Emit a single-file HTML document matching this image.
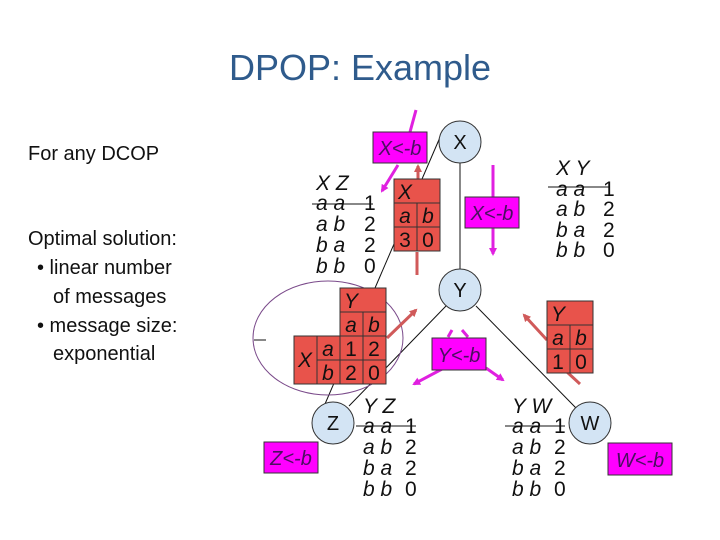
<!DOCTYPE html>
<html><head><meta charset="utf-8"><style>
html,body{margin:0;padding:0;background:#fff}
svg{display:block}
text{font-family:"Liberation Sans",sans-serif}
.t{font-style:italic;font-size:21px;fill:#111}
.n{font-style:normal;font-size:21px;fill:#111}
.m{font-style:italic;font-size:20px;fill:#4a1060}
</style></head><body>
<svg width="720" height="540" viewBox="0 0 720 540">
<defs>
<marker id="am" markerWidth="8" markerHeight="8" refX="6" refY="4" orient="auto" markerUnits="userSpaceOnUse"><path d="M0,0L8,4L0,8z" fill="#e020e0"/></marker>
<marker id="ar" markerWidth="8" markerHeight="8" refX="6" refY="4" orient="auto" markerUnits="userSpaceOnUse"><path d="M0,0L8,4L0,8z" fill="#d05a5a"/></marker>
</defs>
<text x="360" y="80" text-anchor="middle" font-size="36" fill="#2f5b8c">DPOP: Example</text>
<g font-size="20" fill="#111">
<text x="28" y="160">For any DCOP</text>
<text x="28" y="245">Optimal solution:</text>
<text x="37" y="274">• linear number</text>
<text x="53" y="303">of messages</text>
<text x="37" y="332">• message size:</text>
<text x="53" y="360">exponential</text>
</g>
<g stroke="#111" stroke-width="1" fill="none">
<line x1="460" y1="163" x2="460" y2="269"/>
<line x1="441" y1="135" x2="325" y2="404"/>
<line x1="446" y1="306" x2="349" y2="406"/>
<line x1="476" y1="306" x2="576" y2="408"/>
<line x1="254" y1="340" x2="266" y2="340"/>
</g>
<ellipse cx="328" cy="338" rx="75" ry="57" fill="none" stroke="#7a4a8a" stroke-width="1"/>
<g fill="#d3e4f4" stroke="#333" stroke-width="1">
<circle cx="460" cy="142" r="21"/><circle cx="460" cy="290" r="21"/>
<circle cx="333" cy="423" r="21"/><circle cx="590" cy="423" r="21"/>
</g>
<g font-size="20" fill="#111" text-anchor="middle">
<text x="460" y="149">X</text><text x="460" y="297">Y</text>
<text x="333" y="430">Z</text><text x="590" y="430">W</text>
</g>
<g stroke="#e020e0" stroke-width="3" fill="none">
<line x1="416" y1="110" x2="410" y2="132"/>
<line x1="398" y1="165" x2="382" y2="191" marker-end="url(#am)"/>
<line x1="493" y1="165" x2="493" y2="197"/>
<line x1="493" y1="228" x2="493" y2="254" marker-end="url(#am)"/>
<line x1="452" y1="330" x2="448" y2="337"/>
<line x1="462" y1="330" x2="468" y2="337"/>
<line x1="444" y1="368" x2="414" y2="384" marker-end="url(#am)"/>
<line x1="486" y1="368" x2="503" y2="380" marker-end="url(#am)"/>
</g>
<g stroke="#d05a5a" stroke-width="3" fill="none">
<line x1="418" y1="179" x2="418" y2="166" marker-end="url(#ar)"/>
<line x1="417" y1="252" x2="417" y2="275"/>
<line x1="387" y1="338" x2="416" y2="310" marker-end="url(#ar)"/>
<line x1="547" y1="340" x2="524" y2="315" marker-end="url(#ar)"/>
<line x1="567" y1="372" x2="580" y2="384"/>
</g>
<g fill="#ff00ff" stroke="#333" stroke-width="1">
<rect x="373" y="132" width="54" height="31"/>
<rect x="465" y="197" width="54" height="31"/>
<rect x="432" y="338" width="54" height="32"/>
<rect x="264" y="442" width="54" height="31"/>
<rect x="608" y="443" width="64" height="32"/>
</g>
<text class="m" x="400" y="155" text-anchor="middle">X&lt;-b</text>
<text class="m" x="492" y="220" text-anchor="middle">X&lt;-b</text>
<text class="m" x="459" y="362" text-anchor="middle">Y&lt;-b</text>
<text class="m" x="291" y="465" text-anchor="middle">Z&lt;-b</text>
<text class="m" x="640" y="467" text-anchor="middle">W&lt;-b</text>
<g fill="#e8534b" stroke="#333" stroke-width="1">
<rect x="394" y="179" width="46" height="24"/>
<rect x="394" y="203" width="23" height="24"/><rect x="417" y="203" width="23" height="24"/>
<rect x="394" y="227" width="23" height="24"/><rect x="417" y="227" width="23" height="24"/>
<rect x="340" y="288" width="46" height="24"/>
<rect x="340" y="312" width="23" height="24"/><rect x="363" y="312" width="23" height="24"/>
<rect x="294" y="336" width="23" height="48"/>
<rect x="317" y="336" width="23" height="24"/><rect x="340" y="336" width="23" height="24"/><rect x="363" y="336" width="23" height="24"/>
<rect x="317" y="360" width="23" height="24"/><rect x="340" y="360" width="23" height="24"/><rect x="363" y="360" width="23" height="24"/>
<rect x="547" y="301" width="46" height="24"/>
<rect x="547" y="325" width="23" height="24"/><rect x="570" y="325" width="23" height="24"/>
<rect x="547" y="349" width="23" height="24"/><rect x="570" y="349" width="23" height="24"/>
</g>
<g text-anchor="middle">
<text class="t" x="405" y="199">X</text>
<text class="t" x="405" y="223">a</text><text class="t" x="428" y="223">b</text>
<text class="n" x="405" y="247">3</text><text class="n" x="428" y="247">0</text>
<text class="t" x="351" y="308">Y</text>
<text class="t" x="351" y="332">a</text><text class="t" x="374" y="332">b</text>
<text class="t" x="305" y="367">X</text>
<text class="t" x="328" y="356">a</text><text class="n" x="351" y="356">1</text><text class="n" x="374" y="356">2</text>
<text class="t" x="328" y="380">b</text><text class="n" x="351" y="380">2</text><text class="n" x="374" y="380">0</text>
<text class="t" x="558" y="321">Y</text>
<text class="t" x="558" y="345">a</text><text class="t" x="581" y="345">b</text>
<text class="n" x="558" y="369">1</text><text class="n" x="581" y="369">0</text>
</g>
<g>
<text class="t" x="316" y="190">X Z</text>
<text class="t" x="316" y="210">a a</text><text class="n" x="364" y="210">1</text>
<text class="t" x="316" y="231">a b</text><text class="n" x="364" y="231">2</text>
<text class="t" x="316" y="252">b a</text><text class="n" x="364" y="252">2</text>
<text class="t" x="316" y="273">b b</text><text class="n" x="364" y="273">0</text>
<line x1="312" y1="204" x2="373" y2="204" stroke="#111"/>
<text class="t" x="556" y="175">X Y</text>
<text class="t" x="556" y="196">a a</text><text class="n" x="603" y="196">1</text>
<text class="t" x="556" y="216">a b</text><text class="n" x="603" y="216">2</text>
<text class="t" x="556" y="237">b a</text><text class="n" x="603" y="237">2</text>
<text class="t" x="556" y="257">b b</text><text class="n" x="603" y="257">0</text>
<line x1="548" y1="187" x2="609" y2="187" stroke="#111"/>
<text class="t" x="363" y="413">Y Z</text>
<text class="t" x="363" y="433">a a</text><text class="n" x="405" y="433">1</text>
<text class="t" x="363" y="454">a b</text><text class="n" x="405" y="454">2</text>
<text class="t" x="363" y="475">b a</text><text class="n" x="405" y="475">2</text>
<text class="t" x="363" y="496">b b</text><text class="n" x="405" y="496">0</text>
<line x1="356" y1="426" x2="416" y2="426" stroke="#111"/>
<text class="t" x="512" y="413">Y W</text>
<text class="t" x="512" y="433">a a</text><text class="n" x="554" y="433">1</text>
<text class="t" x="512" y="454">a b</text><text class="n" x="554" y="454">2</text>
<text class="t" x="512" y="475">b a</text><text class="n" x="554" y="475">2</text>
<text class="t" x="512" y="496">b b</text><text class="n" x="554" y="496">0</text>
<line x1="505" y1="426" x2="565" y2="426" stroke="#111"/>
</g>
</svg>
</body></html>
